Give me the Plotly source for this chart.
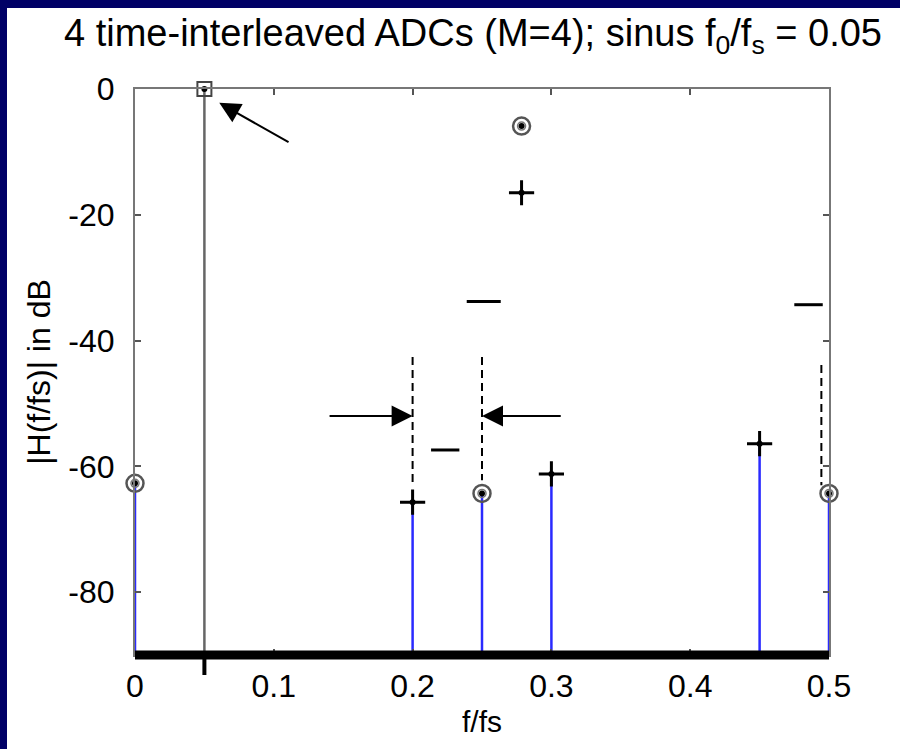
import plotly.graph_objects as go

# ---- data ----
stem_x = [0.0, 0.2, 0.25, 0.3, 0.45, 0.5]
stem_y = [-62.7, -65.7, -64.3, -61.2, -56.4, -64.3]
circle_x = [0.0, 0.25, 0.5, 0.2785]
circle_y = [-62.7, -64.3, -64.3, -5.9]
plus_x = [0.2, 0.3, 0.45, 0.2785]
plus_y = [-65.7, -61.2, -56.4, -16.5]
sig_x = [0.05]
sig_y = [0.0]
floor_db = -90

# annotation geometry (data units)
dash_lines = [  # horizontal short lines: x0, x1, y
    (0.2390, 0.2635, -33.8),
    (0.2133, 0.2337, -57.4),
    (0.4750, 0.4955, -34.3),
]
vdash_lines = [  # dashed verticals: x, y_top, y_bottom
    (0.2, -42.6, -63.3),
    (0.25, -42.6, -62.2),
    (0.4945, -43.9, -63.0),
]
arrows = [  # head x, head y, tail x, tail y
    (0.0607, -2.2, 0.1117, -8.6),
    (0.2, -52.0, 0.1391, -52.0),
    (0.25, -52.0, 0.3078, -52.0),
]

W, H = 900, 749
ML, MR, MT, MB = 135, 71, 89, 94
PW, PH = W - ML - MR, H - MT - MB

fig = go.Figure()

# blue stems
sx, sy = [], []
for x, y in zip(stem_x, stem_y):
    sx += [x, x, None]
    sy += [floor_db, y, None]
fig.add_trace(go.Scatter(x=sx, y=sy, mode="lines",
                         line=dict(color="#2a2aff", width=2.5), hoverinfo="skip"))
# signal stem
gx, gy = [], []
for x, y in zip(sig_x, sig_y):
    gx += [x, x, None]
    gy += [floor_db, y, None]
fig.add_trace(go.Scatter(x=gx, y=gy, mode="lines",
                         line=dict(color="#666666", width=2.5), hoverinfo="skip"))

# dashed verticals
for x, yt, yb in vdash_lines:
    fig.add_trace(go.Scatter(x=[x, x], y=[yt, yb], mode="lines",
                             line=dict(color="black", width=2, dash="8px,5px")))
# short horizontal lines
for x0, x1, y in dash_lines:
    fig.add_trace(go.Scatter(x=[x0, x1], y=[y, y], mode="lines",
                             line=dict(color="black", width=3)))

# markers
fig.add_trace(go.Scatter(x=sig_x, y=sig_y, mode="markers", cliponaxis=False,
                         marker=dict(symbol="square-open", size=14, color="#444444",
                                     line=dict(color="#444444", width=2))))
fig.add_trace(go.Scatter(x=circle_x, y=circle_y, mode="markers", cliponaxis=False,
                         marker=dict(symbol="circle-open", size=17, color="#555555",
                                     line=dict(color="#555555", width=2.5))))
fig.add_trace(go.Scatter(x=circle_x, y=circle_y, mode="markers", cliponaxis=False,
                         marker=dict(symbol="circle-open", size=8, color="#777777",
                                     line=dict(color="#777777", width=1.5))))
fig.add_trace(go.Scatter(x=plus_x, y=plus_y, mode="markers", cliponaxis=False,
                         marker=dict(symbol="cross-thin-open", size=18, color="black",
                                     line=dict(color="black", width=3))))
fig.add_trace(go.Scatter(x=circle_x + plus_x + sig_x, y=circle_y + plus_y + sig_y,
                         mode="markers", cliponaxis=False,
                         marker=dict(symbol="circle", size=6, color="black")))

# thick baseline + tick below at signal frequency
fig.add_shape(type="line", xref="x", yref="paper", x0=0, x1=0.5, y0=0, y1=0,
              line=dict(color="black", width=9))
fig.add_shape(type="line", xref="x", yref="paper", x0=sig_x[0], x1=sig_x[0],
              y0=0, y1=-20 / PH, line=dict(color="black", width=4))

for hx, hy, tx, ty in arrows:
    fig.add_annotation(x=hx, y=hy, ax=tx, ay=ty, xref="x", yref="y",
                       axref="x", ayref="y", text="", showarrow=True,
                       arrowhead=2, arrowsize=2.1, arrowwidth=2, arrowcolor="black")

# navy border (left & top)
navy = "#000066"
fig.add_shape(type="rect", xref="paper", yref="paper", layer="above",
              x0=-ML / PW, x1=(7 - ML) / PW, y0=-MB / PH, y1=1 + MT / PH,
              fillcolor=navy, line=dict(width=0))
fig.add_shape(type="rect", xref="paper", yref="paper", layer="above",
              x0=-ML / PW, x1=1 + MR / PW, y0=1 + (MT - 8) / PH, y1=1 + MT / PH,
              fillcolor=navy, line=dict(width=0))

font = "Liberation Sans, Arial, sans-serif"
fig.update_layout(
    width=W, height=H,
    margin=dict(l=ML, r=MR, t=MT, b=MB),
    paper_bgcolor="white", plot_bgcolor="white",
    showlegend=False,
    font=dict(family=font, color="black", size=32),
    title=dict(text="4 time-interleaved ADCs (M=4); sinus f<sub>0</sub>/f<sub>s</sub> = 0.05",
               x=(473 - ML) / PW, xanchor="center", xref="paper", y=1 - 33 / H,
               yanchor="middle", font=dict(size=38)),
)
axis_common = dict(showline=True, mirror="ticks", linecolor="#777777", linewidth=2,
                   ticks="inside", ticklen=6, tickcolor="#555555", tickwidth=1.5,
                   showgrid=False, zeroline=False, tickfont=dict(size=32))
fig.update_xaxes(range=[0, 0.5], tickvals=[0, 0.1, 0.2, 0.3, 0.4, 0.5],
                 ticktext=["0", "0.1", "0.2", "0.3", "0.4", "0.5"],
                 title=dict(text="f/fs", font=dict(size=30), standoff=8),
                 ticklabelstandoff=2, **axis_common)
fig.update_yaxes(range=[-90, 0], tickvals=[0, -20, -40, -60, -80],
                 ticktext=["0", "-20", "-40", "-60", "-80"],
                 title=dict(text="|H(f/fs)| in dB", font=dict(size=32), standoff=8),
                 ticklabelstandoff=12, **axis_common)

fig.write_html("out.html")
